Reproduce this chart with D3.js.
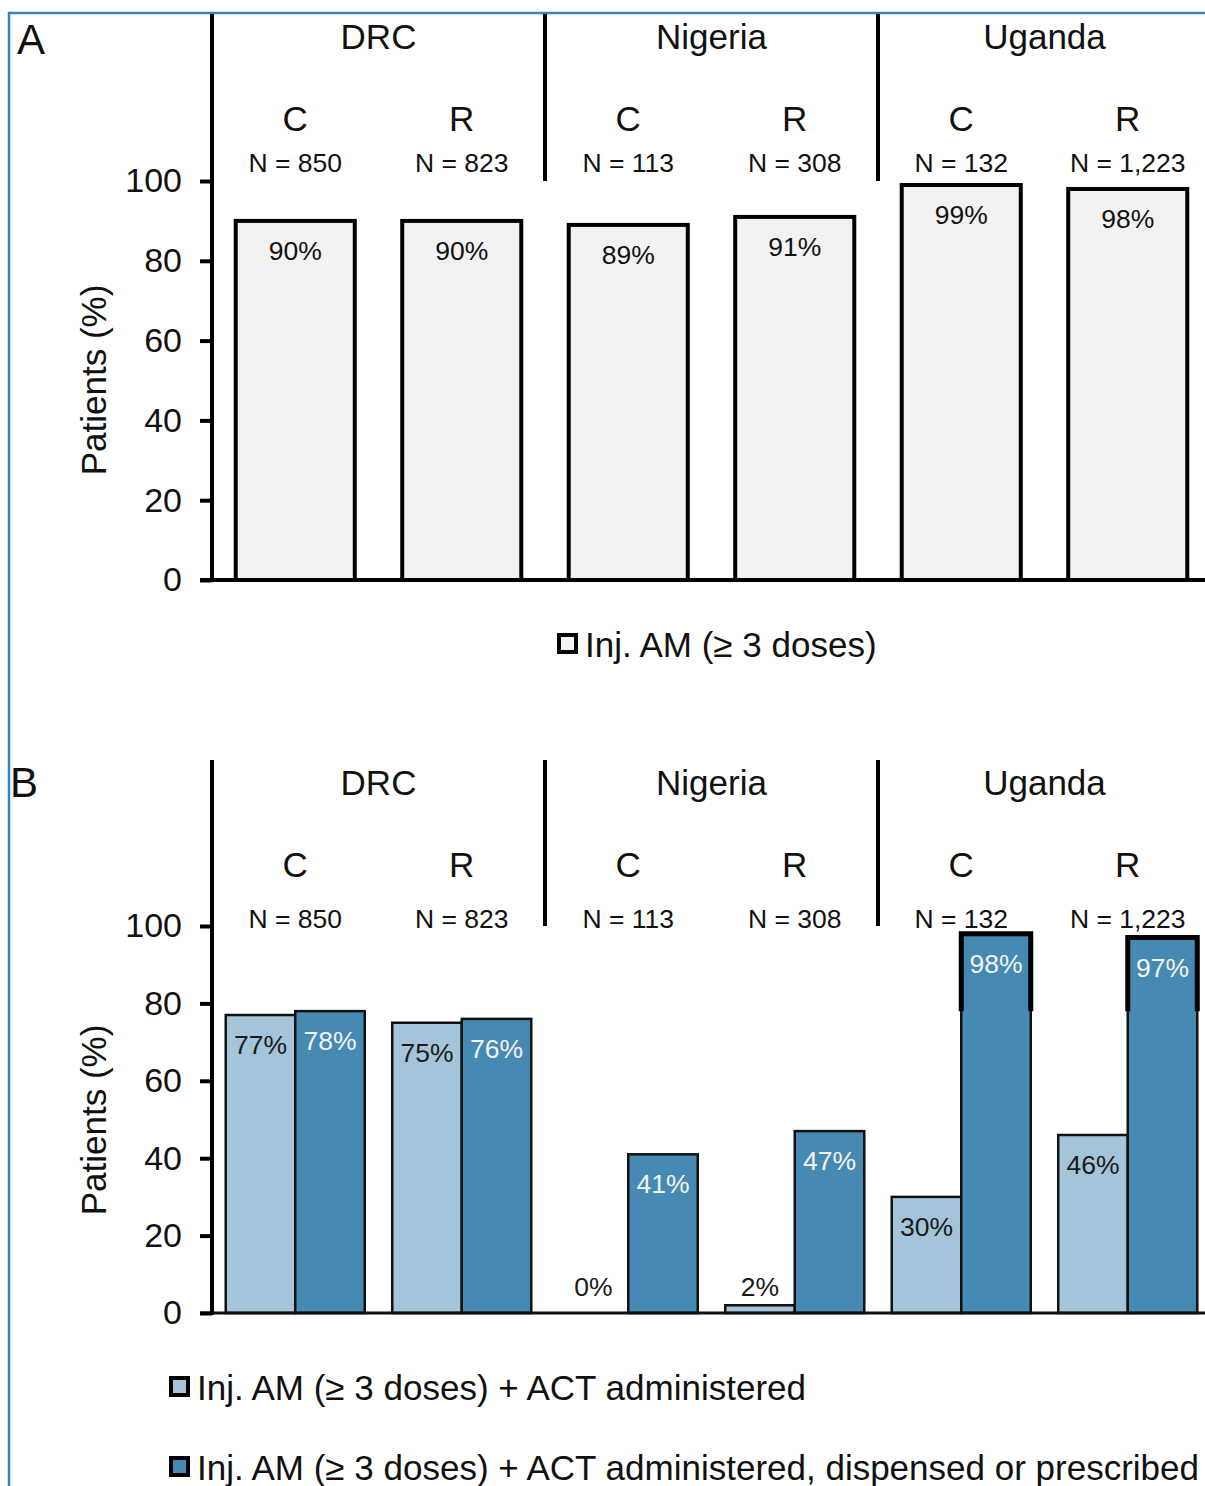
<!DOCTYPE html>
<html lang="en">
<head>
<meta charset="UTF-8">
<title>Injectable AM and ACT completion</title>
<script src="https://cdn.jsdelivr.net/npm/d3@7"></script>
<style>
    body { margin: 0; background: #fff; }
    svg text { font-family: "Liberation Sans", Arial, sans-serif; fill: #111; }
</style>
</head>
<body>
<script>
// data
var countries = ["DRC", "Nigeria", "Uganda"];
var arms = ["C", "R"];
var groups = ["DRC-C", "DRC-R", "Nigeria-C", "Nigeria-R", "Uganda-C", "Uganda-R"];
var nLabels = ["N = 850", "N = 823", "N = 113", "N = 308", "N = 132", "N = 1,223"];
var injAM = [90, 90, 89, 91, 99, 98];
var actAdministered = [77, 75, 0, 2, 30, 46];
var actAny = [78, 76, 41, 47, 98, 97];
var yTicks = [0, 20, 40, 60, 80, 100];
var legendA = ["Inj. AM (\u2265 3 doses)"];
var legendB = ["Inj. AM (\u2265 3 doses) + ACT administered",
               "Inj. AM (\u2265 3 doses) + ACT administered, dispensed or prescribed"];

var W = 1205, H = 1486;
var svg = d3.select("body").append("svg").attr("width", W).attr("height", H);

// outer blue frame
svg.append("path")
    .attr("d", "M9," + H + " V13 H" + W)
    .attr("fill", "none").attr("stroke", "#3d7fc1").attr("stroke-width", 2.5);

var axisX = 212;
var x = d3.scaleBand().domain(groups).range([axisX, 1211]);
function mid(d) { return x(d) + x.bandwidth() / 2; }

function header(top, y100, nY, letter, lx, ly) {
    svg.append("text").attr("x", lx).attr("y", ly).attr("font-size", 42).text(letter);

    // country names and dividers
    svg.selectAll(null).data(countries).enter().append("text")
        .attr("x", function(d, i) { return (mid(groups[i * 2]) + mid(groups[i * 2 + 1])) / 2; })
        .attr("y", top + 35)
        .attr("text-anchor", "middle").attr("font-size", 35)
        .text(function(d) { return d; });
    svg.selectAll(null).data([1, 2]).enter().append("line")
        .attr("x1", function(d) { return mid(groups[d * 2]) - x.step() / 2; })
        .attr("x2", function(d) { return mid(groups[d * 2]) - x.step() / 2; })
        .attr("y1", top).attr("y2", y100)
        .attr("stroke", "#000").attr("stroke-width", 4);

    // arm letters and N
    svg.selectAll(null).data(groups).enter().append("text")
        .attr("x", mid)
        .attr("y", top + 117)
        .attr("text-anchor", "middle").attr("font-size", 35)
        .text(function(d, i) { return arms[i % 2]; });
    svg.selectAll(null).data(groups).enter().append("text")
        .attr("x", mid)
        .attr("y", nY)
        .attr("text-anchor", "middle").attr("font-size", 26.5)
        .text(function(d, i) { return nLabels[i]; });
}

function yAxis(y, top, labelY) {
    var g = svg.append("g").attr("transform", "translate(" + axisX + ",0)")
        .call(d3.axisLeft(y).tickValues(yTicks).tickSize(12).tickPadding(18));
    g.select(".domain").remove();
    g.selectAll(".tick line").attr("stroke", "#000").attr("stroke-width", 4);
    g.selectAll(".tick text").attr("font-size", 34).attr("font-family", "Liberation Sans, Arial, sans-serif").attr("fill", "#111");
    svg.append("line").attr("x1", axisX).attr("x2", axisX)
        .attr("y1", top).attr("y2", y(0) + 2)
        .attr("stroke", "#000").attr("stroke-width", 4);
    svg.append("text")
        .attr("transform", "translate(106," + labelY + ") rotate(-90)")
        .attr("text-anchor", "middle").attr("font-size", 35)
        .text("Patients (%)");
}

function legendRow(lx, ly, color, label) {
    svg.append("rect").attr("x", lx).attr("y", ly - 10).attr("width", 17).attr("height", 17)
        .attr("fill", color).attr("stroke", "#000").attr("stroke-width", 4);
    svg.append("text").attr("x", lx + 26).attr("y", ly + 12)
        .attr("font-size", 35).text(label);
}

// ---------- Panel A ----------
var yA = d3.scaleLinear().domain([0, 100]).range([580, 181]);
x.paddingInner(0.285).paddingOuter(0.1425);
header(14, 181, 172, "A", 17, 54);

svg.selectAll(null).data(injAM).enter().append("rect")
    .attr("x", function(d, i) { return x(groups[i]); })
    .attr("y", function(d) { return yA(d); })
    .attr("width", x.bandwidth())
    .attr("height", function(d) { return yA(0) - yA(d); })
    .attr("fill", "#f2f2f2").attr("stroke", "#000").attr("stroke-width", 4);
svg.selectAll(null).data(injAM).enter().append("text")
    .attr("x", function(d, i) { return mid(groups[i]); })
    .attr("y", function(d) { return yA(d) + 39; })
    .attr("text-anchor", "middle").attr("font-size", 26.5)
    .text(function(d) { return d + "%"; });

svg.append("line").attr("x1", 200).attr("x2", W).attr("y1", yA(0)).attr("y2", yA(0))
    .attr("stroke", "#000").attr("stroke-width", 4);
yAxis(yA, 14, 380);
legendRow(559, 645, "#f2f2f2", legendA[0]);

// ---------- Panel B ----------
var yB = d3.scaleLinear().domain([0, 100]).range([1313, 926]);
x.paddingInner(0.165).paddingOuter(0.0825);
var xs = d3.scaleBand().domain(["admin", "any"]).range([0, x.bandwidth()]);
header(760, 926, 928, "B", 10, 797);

var series = [
    { key: "admin", values: actAdministered, fill: "#a3c4d9", text: "#1a1a1a" },
    { key: "any", values: actAny, fill: "#4689b3", text: "#f4f4f4" }
];
series.forEach(function(s) {
    svg.selectAll(null).data(s.values).enter().append("rect")
        .attr("x", function(d, i) { return x(groups[i]) + xs(s.key); })
        .attr("y", function(d) { return yB(d); })
        .attr("width", xs.bandwidth())
        .attr("height", function(d) { return yB(0) - yB(d); })
        .attr("fill", s.fill).attr("stroke", "#111").attr("stroke-width", 2.5);
    // thick rim on the tallest bars, as in the figure
    svg.selectAll(null).data(s.values.map(function(v, i) { return [v, i]; })
            .filter(function(p) { return p[0] > 90; })).enter().append("path")
        .attr("d", function(p) {
            var x0 = x(groups[p[1]]) + xs(s.key), x1 = x0 + xs.bandwidth();
            return "M" + x0 + "," + yB(78) + " V" + yB(p[0]) + " H" + x1 + " V" + yB(78);
        })
        .attr("fill", "none").attr("stroke", "#000").attr("stroke-width", 5);
    svg.selectAll(null).data(s.values).enter().append("text")
        .attr("x", function(d, i) { return x(groups[i]) + xs(s.key) + xs.bandwidth() / 2; })
        .attr("y", function(d) { return d < 5 ? yB(0) - 17 : yB(d) + 39; })
        .attr("text-anchor", "middle").attr("font-size", 26.5)
        .style("fill", function(d) { return d < 5 ? "#1a1a1a" : s.text; })
        .text(function(d) { return d + "%"; });
});

svg.append("line").attr("x1", 200).attr("x2", W).attr("y1", yB(0)).attr("y2", yB(0))
    .attr("stroke", "#111").attr("stroke-width", 3);
yAxis(yB, 760, 1120);
legendRow(171, 1388, "#a3c4d9", legendB[0]);
legendRow(171, 1468, "#4689b3", legendB[1]);
</script>
</body>
</html>
